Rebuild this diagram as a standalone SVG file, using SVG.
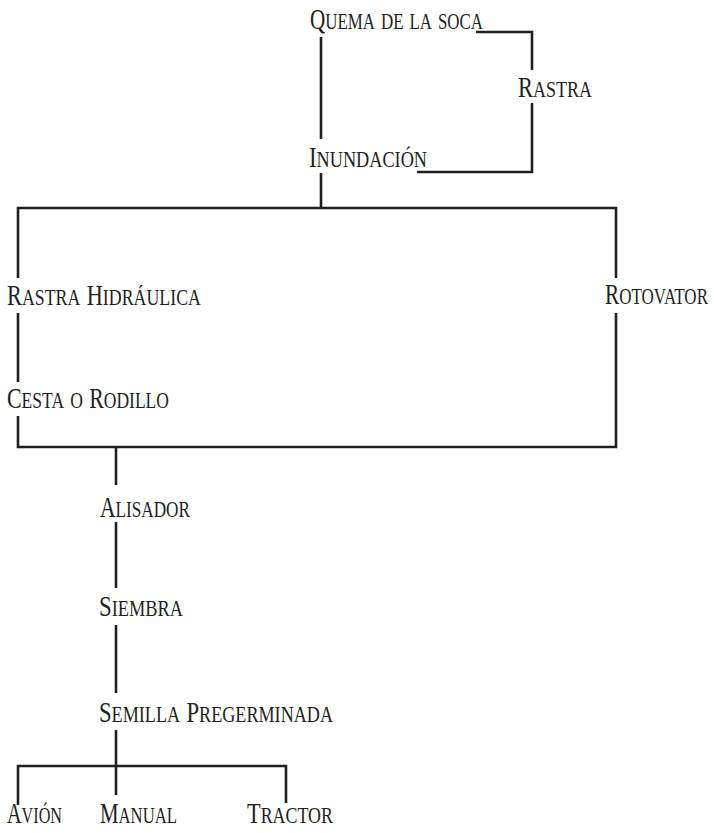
<svg xmlns="http://www.w3.org/2000/svg" width="714" height="833" viewBox="0 0 714 833">
  <style>
    .bg { fill: #ffffff; }
    .lbl { font-family: "Liberation Serif", "Times New Roman", serif; fill: #231f20; }
    .cap { font-size: 30px; }
    .sc { font-size: 34px; font-variant: small-caps; }
    .wire { fill: none; stroke: #231f20; stroke-width: 2.6; stroke-linecap: butt; stroke-linejoin: miter; }
  </style>
  <rect class="bg" x="0" y="0" width="714" height="833"/>

  <!-- connectors -->
  <g id="connectors">
    <path class="wire" d="M321,37 V139"/>
    <path class="wire" d="M476,32 H532 V70"/>
    <path class="wire" d="M532,103 V172 H417"/>
    <path class="wire" d="M321,173 V208"/>
    <path class="wire" d="M18,278 V208 H616 V278"/>
    <path class="wire" d="M18,313 V382"/>
    <path class="wire" d="M18,416 V447 H616 V313"/>
    <path class="wire" d="M116,447 V485"/>
    <path class="wire" d="M116,522 V588"/>
    <path class="wire" d="M116,625 V693"/>
    <path class="wire" d="M116,730 V795"/>
    <path class="wire" d="M18,805 V766 H286 V803"/>
  </g>

  <!-- nodes: capital initials with small-caps remainder, condensed to set widths -->
  <g id="quema">
    <text class="lbl" x="310" y="29" textLength="173" lengthAdjust="spacingAndGlyphs"><tspan class="cap">Q</tspan><tspan class="sc">uema de la soca</tspan></text>
  </g>
  <g id="rastra">
    <text class="lbl" x="518" y="97" textLength="74" lengthAdjust="spacingAndGlyphs"><tspan class="cap">R</tspan><tspan class="sc">astra</tspan></text>
  </g>
  <g id="inundacion">
    <text class="lbl" x="309" y="167" textLength="118" lengthAdjust="spacingAndGlyphs"><tspan class="cap">I</tspan><tspan class="sc">nundación</tspan></text>
  </g>
  <g id="rastra-hidraulica">
    <text class="lbl" x="7" y="305" textLength="194" lengthAdjust="spacingAndGlyphs"><tspan class="cap">R</tspan><tspan class="sc">astra </tspan><tspan class="cap">H</tspan><tspan class="sc">idráulica</tspan></text>
  </g>
  <g id="rotovator">
    <text class="lbl" x="605" y="304" textLength="103" lengthAdjust="spacingAndGlyphs"><tspan class="cap">R</tspan><tspan class="sc">otovator</tspan></text>
  </g>
  <g id="cesta-rodillo">
    <text class="lbl" x="7" y="408" textLength="162" lengthAdjust="spacingAndGlyphs"><tspan class="cap">C</tspan><tspan class="sc">esta o </tspan><tspan class="cap">R</tspan><tspan class="sc">odillo</tspan></text>
  </g>
  <g id="alisador">
    <text class="lbl" x="100" y="517" textLength="90" lengthAdjust="spacingAndGlyphs"><tspan class="cap">A</tspan><tspan class="sc">lisador</tspan></text>
  </g>
  <g id="siembra">
    <text class="lbl" x="99" y="616" textLength="84" lengthAdjust="spacingAndGlyphs"><tspan class="cap">S</tspan><tspan class="sc">iembra</tspan></text>
  </g>
  <g id="semilla">
    <text class="lbl" x="99" y="722" textLength="234" lengthAdjust="spacingAndGlyphs"><tspan class="cap">S</tspan><tspan class="sc">emilla </tspan><tspan class="cap">P</tspan><tspan class="sc">regerminada</tspan></text>
  </g>
  <g id="avion">
    <text class="lbl" x="7" y="823" textLength="55" lengthAdjust="spacingAndGlyphs"><tspan class="cap">A</tspan><tspan class="sc">vión</tspan></text>
  </g>
  <g id="manual">
    <text class="lbl" x="100" y="823" textLength="77" lengthAdjust="spacingAndGlyphs"><tspan class="cap">M</tspan><tspan class="sc">anual</tspan></text>
  </g>
  <g id="tractor">
    <text class="lbl" x="247" y="823" textLength="86" lengthAdjust="spacingAndGlyphs"><tspan class="cap">T</tspan><tspan class="sc">ractor</tspan></text>
  </g>
</svg>
